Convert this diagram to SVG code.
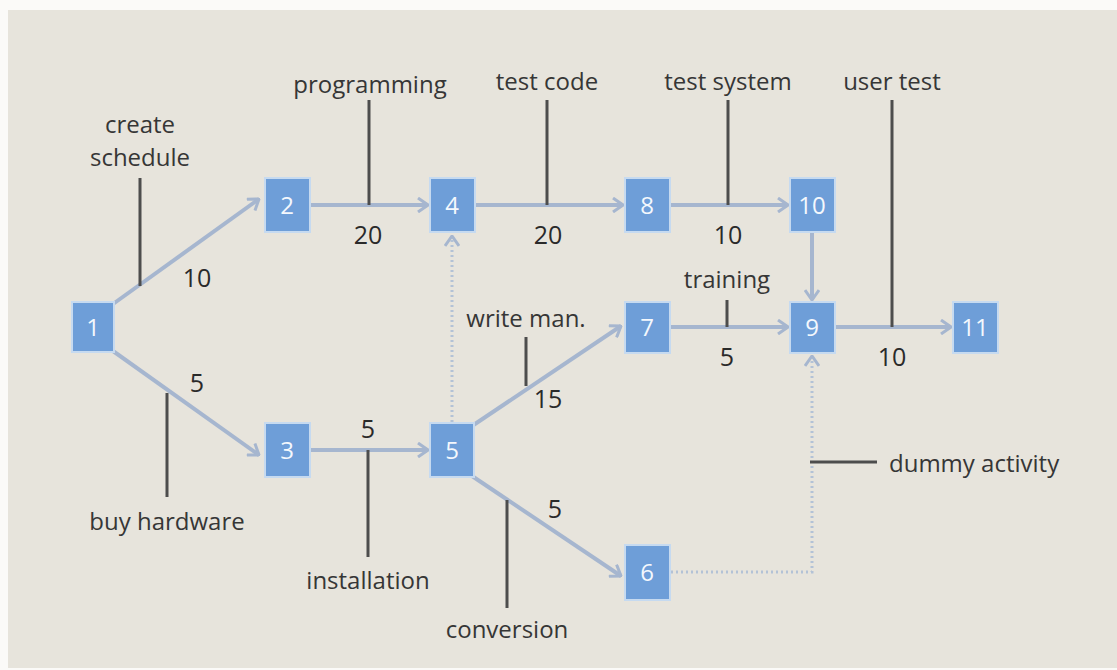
<svg xmlns="http://www.w3.org/2000/svg" width="1117" height="670" viewBox="0 0 1117 670">
  <defs>
    <marker id="chev" viewBox="0 0 12 16" refX="11" refY="8" markerWidth="12" markerHeight="16" markerUnits="userSpaceOnUse" orient="auto">
      <path d="M1,1 L11,8 L1,15" fill="none" stroke="#a6b6cf" stroke-width="3"/>
    </marker>
    <style>
      .bg { fill: #e7e4dc; }
      .edge { fill: none; stroke: #a6b6cf; stroke-width: 4; }
      .dummy { fill: none; stroke: #b3c2d6; stroke-width: 3; stroke-dasharray: 2 3; }
      .lead { fill: none; stroke: #4d4d4d; stroke-width: 3; }
      .node rect { fill: #6e9ed8; stroke: #c6daf0; stroke-width: 2; }
      .node text { fill: #f4f8fd; font-family: "Open Sans", "Liberation Sans", sans-serif; font-size: 24px; text-anchor: middle; }
      .lbl { fill: #363636; font-family: "Open Sans", "Liberation Sans", sans-serif; font-size: 24px; text-anchor: middle; }
      .num { fill: #2a2a2a; font-family: "Open Sans", "Liberation Sans", sans-serif; font-size: 25px; text-anchor: middle; }
    </style>
  </defs>

  <rect x="0" y="0" width="1117" height="670" fill="#fbfaf8"/>
  <rect class="bg" x="8" y="10" width="1109" height="658"/>

  <!-- activity arrows -->
  <g id="connectors">
    <path class="edge" d="M113,304 L259,199" marker-end="url(#chev)"/>
    <path class="edge" d="M113,351 L259,455" marker-end="url(#chev)"/>
    <path class="edge" d="M310,205 L428,205" marker-end="url(#chev)"/>
    <path class="edge" d="M475,205 L623,205" marker-end="url(#chev)"/>
    <path class="edge" d="M670,205 L788,205" marker-end="url(#chev)"/>
    <path class="edge" d="M812,232 L812,300" marker-end="url(#chev)"/>
    <path class="edge" d="M670,327 L788,327" marker-end="url(#chev)"/>
    <path class="edge" d="M835,327 L951,327" marker-end="url(#chev)"/>
    <path class="edge" d="M310,450 L428,450" marker-end="url(#chev)"/>
    <path class="edge" d="M472,426 L621,326" marker-end="url(#chev)"/>
    <path class="edge" d="M472,476 L621,576" marker-end="url(#chev)"/>
    <path class="dummy" d="M452,422 L452,236" marker-end="url(#chev)"/>
    <path class="dummy" d="M671,572 L812,572 L812,356" marker-end="url(#chev)"/>
  </g>

  <!-- label leader lines -->
  <g id="leaders">
    <line class="lead" x1="140" y1="178" x2="140" y2="286"/>
    <line class="lead" x1="369" y1="100" x2="369" y2="205"/>
    <line class="lead" x1="547" y1="100" x2="547" y2="205"/>
    <line class="lead" x1="728" y1="100" x2="728" y2="205"/>
    <line class="lead" x1="892" y1="100" x2="892" y2="327"/>
    <line class="lead" x1="727" y1="300" x2="727" y2="327"/>
    <line class="lead" x1="526" y1="337" x2="526" y2="386"/>
    <line class="lead" x1="167" y1="393" x2="167" y2="497"/>
    <line class="lead" x1="368" y1="450" x2="368" y2="557"/>
    <line class="lead" x1="507" y1="500" x2="507" y2="608"/>
    <line class="lead" x1="810" y1="462" x2="877" y2="462"/>
  </g>

  <!-- activity names -->
  <g id="labels">
    <text class="lbl" x="140" y="133">create</text>
    <text class="lbl" x="140" y="166">schedule</text>
    <text class="lbl" x="370" y="93">programming</text>
    <text class="lbl" x="547" y="90">test code</text>
    <text class="lbl" x="728" y="90">test system</text>
    <text class="lbl" x="892" y="90">user test</text>
    <text class="lbl" x="727" y="288">training</text>
    <text class="lbl" x="526" y="327">write man.</text>
    <text class="lbl" x="167" y="530">buy hardware</text>
    <text class="lbl" x="368" y="589">installation</text>
    <text class="lbl" x="507" y="638">conversion</text>
    <text class="lbl" x="889" y="472" style="text-anchor:start">dummy activity</text>
  </g>

  <!-- durations -->
  <g id="durations">
    <text class="num" x="197" y="287">10</text>
    <text class="num" x="197" y="392">5</text>
    <text class="num" x="368" y="244">20</text>
    <text class="num" x="548" y="244">20</text>
    <text class="num" x="728" y="244">10</text>
    <text class="num" x="727" y="366">5</text>
    <text class="num" x="892" y="366">10</text>
    <text class="num" x="368" y="438">5</text>
    <text class="num" x="548" y="408">15</text>
    <text class="num" x="555" y="518">5</text>
  </g>

  <!-- event nodes -->
  <g id="n1" class="node"><rect x="72" y="302" width="42" height="50"/><text x="93" y="336">1</text></g>
  <g id="n2" class="node"><rect x="265" y="178" width="45" height="54"/><text x="287" y="214">2</text></g>
  <g id="n3" class="node"><rect x="265" y="423" width="45" height="54"/><text x="287" y="459">3</text></g>
  <g id="n4" class="node"><rect x="430" y="178" width="45" height="54"/><text x="452" y="214">4</text></g>
  <g id="n5" class="node"><rect x="430" y="423" width="44" height="54"/><text x="452" y="459">5</text></g>
  <g id="n6" class="node"><rect x="625" y="545" width="45" height="55"/><text x="647" y="581">6</text></g>
  <g id="n7" class="node"><rect x="625" y="302" width="45" height="51"/><text x="647" y="336">7</text></g>
  <g id="n8" class="node"><rect x="625" y="178" width="45" height="54"/><text x="647" y="214">8</text></g>
  <g id="n9" class="node"><rect x="790" y="302" width="45" height="51"/><text x="812" y="336">9</text></g>
  <g id="n10" class="node"><rect x="790" y="178" width="45" height="54"/><text x="812" y="214">10</text></g>
  <g id="n11" class="node"><rect x="953" y="302" width="45" height="51"/><text x="975" y="336">11</text></g>
</svg>
